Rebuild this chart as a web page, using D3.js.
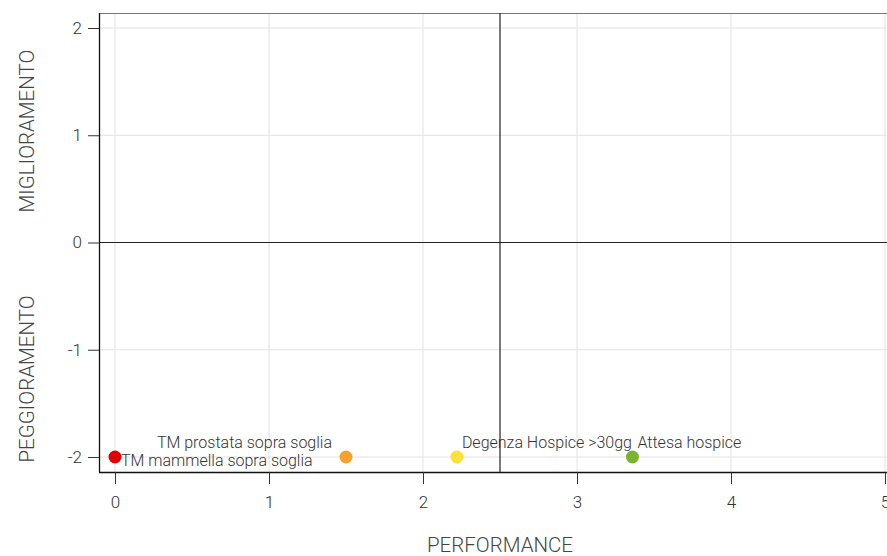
<!DOCTYPE html>
<html><head><meta charset="utf-8">
<script src="https://cdn.jsdelivr.net/npm/d3@7"></script>
<style>
body{margin:0;background:#fff;}
svg{display:block;font-family:"Roboto","DejaVu Sans Condensed",sans-serif;}
</style></head>
<body><svg id="c" width="887" height="556"></svg>
<script>
const names = ["TM mammella sopra soglia","TM prostata sopra soglia","Degenza Hospice >30gg","Attesa hospice"];
const performance = [0, 1.5, 2.22, 3.36];
const miglioramento = [-2, -2, -2, -2];
const colors = ["#e00000","#f8a02b","#fde03a","#78b42e"];
const labelPos = ["right","left-up","right-up","right-up"];
const xTicks = [0,1,2,3,4,5];
const yTicks = [-2,-1,0,1,2];
const xDomain = [-0.104, 5.013];
const yDomain = [-2.14, 2.14];
const xThreshold = 2.5, yThreshold = 0;
const titleText = "Indicatori area oncologica";

const svg = d3.select("#c");
const L=99, R=887, T=13, B=472;
const x = d3.scaleLinear().domain(xDomain).range([L,R]);
const y = d3.scaleLinear().domain(yDomain).range([B,T]);
const fmt = d => String(d);

// title (mostly off-canvas, as in the reference)
svg.append("text").attr("x",493).attr("y",-3).attr("text-anchor","middle")
  .attr("font-size",17).attr("font-weight",300).attr("fill","#333").text(titleText);

// grid
svg.append("g").selectAll("line").data(xTicks).join("line")
  .attr("x1",d=>x(d)).attr("x2",d=>x(d)).attr("y1",T).attr("y2",B)
  .attr("stroke","#e2e2e2").attr("stroke-width",1);
svg.append("g").selectAll("line").data(yTicks).join("line")
  .attr("x1",L).attr("x2",R).attr("y1",d=>y(d)).attr("y2",d=>y(d))
  .attr("stroke","#e2e2e2").attr("stroke-width",1);

// top border
svg.append("line").attr("x1",L).attr("x2",R).attr("y1",T+0.5).attr("y2",T+0.5).attr("stroke","#777");

// quadrant lines
svg.append("line").attr("x1",x(xThreshold)).attr("x2",x(xThreshold)).attr("y1",T).attr("y2",B)
  .attr("stroke","#222").attr("stroke-width",1.2);
svg.append("line").attr("x1",L).attr("x2",R).attr("y1",y(yThreshold)).attr("y2",y(yThreshold))
  .attr("stroke","#222").attr("stroke-width",1.2);

// axes
const xAxis = svg.append("g").attr("transform",`translate(0,${B})`)
  .call(d3.axisBottom(x).tickValues(xTicks).tickFormat(fmt).tickSizeOuter(0).tickSize(12).tickPadding(12));
const yAxis = svg.append("g").attr("transform",`translate(${L},0)`)
  .call(d3.axisLeft(y).tickValues(yTicks).tickFormat(fmt).tickSizeOuter(0).tickSize(11).tickPadding(6));
[xAxis,yAxis].forEach(a=>{
  a.select(".domain").attr("stroke","#111").attr("stroke-width",1.3);
  a.selectAll(".tick line").attr("stroke","#333");
  a.selectAll(".tick text").attr("font-size",17).attr("font-weight",300).attr("fill","#333")
   .attr("font-family","Roboto,sans-serif");
});
xAxis.select(".domain").attr("d",`M${L},0.5H${R}`);
yAxis.select(".domain").attr("d",`M0.5,${T}V${B}`);

// axis titles
svg.append("text").attr("x",500).attr("y",552).attr("text-anchor","middle")
  .attr("font-size",20.5).attr("font-weight",300).attr("fill","#444").text("PERFORMANCE");
svg.append("text").attr("transform","translate(34,131) rotate(-90)").attr("text-anchor","middle")
  .attr("font-size",20.5).attr("font-weight",300).attr("fill","#444").text("MIGLIORAMENTO");
svg.append("text").attr("transform","translate(34,379) rotate(-90)").attr("text-anchor","middle")
  .attr("font-size",20.5).attr("font-weight",300).attr("fill","#444").text("PEGGIORAMENTO");

// points
const data = names.map((n,i)=>({n,x:performance[i],y:miglioramento[i],c:colors[i],p:labelPos[i]}));
svg.append("g").selectAll("circle").data(data).join("circle")
  .attr("cx",d=>x(d.x)).attr("cy",d=>y(d.y)).attr("r",6.5).attr("fill",d=>d.c);
svg.append("g").selectAll("text").data(data).join("text")
  .attr("x",d=>d.p==="left-up"? x(d.x)-14 : x(d.x)+ (d.p==="right"?6:5))
  .attr("y",d=>d.p==="right"? y(d.y)+9 : y(d.y)-9)
  .attr("text-anchor",d=>d.p==="left-up"?"end":"start")
  .attr("font-size",16).attr("font-weight",300).attr("fill","#333").text(d=>d.n);
</script></body></html>
